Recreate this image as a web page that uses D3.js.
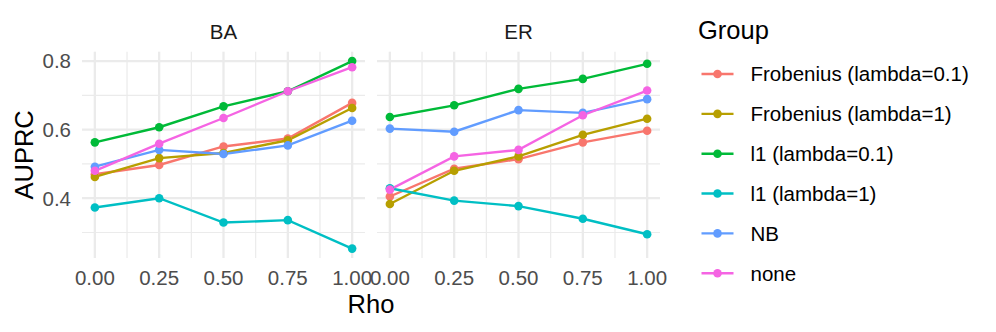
<html>
<head>
  <script src="https://d3js.org/d3.v7.min.js"></script>
  <style>
  body { margin: 0; background: #fff; }
  svg { font-family: "Liberation Sans", Arial, sans-serif; }
  </style>
</head>
<body>
  <svg width="996" height="332"></svg>

<script>
// AUPRC vs Rho, faceted by network type
var rho = [0, 0.25, 0.5, 0.75, 1];
var panels = ["BA", "ER"];
var groups = ["Frobenius (lambda=0.1)", "Frobenius (lambda=1)", "l1 (lambda=0.1)", "l1 (lambda=1)", "NB", "none"];
var colors = ["#F8766D", "#B79F00", "#00BA38", "#00BFC4", "#619CFF", "#F564E3"];

// values per group, one array per panel
var BA = [
  [0.470, 0.497, 0.551, 0.574, 0.678],
  [0.462, 0.517, 0.532, 0.569, 0.663],
  [0.563, 0.607, 0.668, 0.712, 0.800],
  [0.373, 0.400, 0.329, 0.336, 0.253],
  [0.492, 0.541, 0.529, 0.554, 0.626],
  [0.480, 0.559, 0.634, 0.712, 0.782]
];
var ER = [
  [0.405, 0.486, 0.514, 0.563, 0.597],
  [0.383, 0.480, 0.522, 0.585, 0.632],
  [0.637, 0.671, 0.719, 0.748, 0.792],
  [0.429, 0.393, 0.377, 0.340, 0.295],
  [0.603, 0.594, 0.657, 0.649, 0.689],
  [0.425, 0.522, 0.541, 0.642, 0.714]
];
var yTicks = [0.4, 0.6, 0.8];
var yMinor = [0.3, 0.5, 0.7];
var xTicks = [0, 0.25, 0.5, 0.75, 1];
var xMinor = [0.125, 0.375, 0.625, 0.875];

var svg = d3.select("svg");
var panelData = [BA, ER];
var panelLeft = [82, 377];
var panelW = 283;
var pTop = 51.7, pBottom = 258;

var all = BA.concat(ER).flat();
var ymin = d3.min(all), ymax = d3.max(all);
var pad = (ymax - ymin) * 0.05;
var y = d3.scaleLinear().domain([ymin - pad, ymax + pad]).range([pBottom, pTop]);

var small = 20.5, big = 25.5;

panels.forEach(function(name, p) {
  var x = d3.scaleLinear().domain([-0.05, 1.05]).range([panelLeft[p], panelLeft[p] + panelW]);
  var g = svg.append("g");

  // grid
  g.selectAll("line.ymin").data(yMinor).enter().append("line")
    .attr("x1", x.range()[0]).attr("x2", x.range()[1])
    .attr("y1", y).attr("y2", y)
    .attr("stroke", "#EBEBEB").attr("stroke-width", 1.2);
  g.selectAll("line.xmin").data(xMinor).enter().append("line")
    .attr("y1", pTop).attr("y2", pBottom)
    .attr("x1", x).attr("x2", x)
    .attr("stroke", "#EBEBEB").attr("stroke-width", 1.2);
  g.selectAll("line.ymaj").data(yTicks).enter().append("line")
    .attr("x1", x.range()[0]).attr("x2", x.range()[1])
    .attr("y1", y).attr("y2", y)
    .attr("stroke", "#EBEBEB").attr("stroke-width", 2.3);
  g.selectAll("line.xmaj").data(xTicks).enter().append("line")
    .attr("y1", pTop).attr("y2", pBottom)
    .attr("x1", x).attr("x2", x)
    .attr("stroke", "#EBEBEB").attr("stroke-width", 2.3);

  // strip label
  g.append("text")
    .attr("x", (x.range()[0] + x.range()[1]) / 2).attr("y", 39)
    .attr("text-anchor", "middle").attr("font-size", small).attr("fill", "#1A1A1A")
    .text(name);

  // x tick labels
  g.selectAll("text.xt").data(xTicks).enter().append("text")
    .attr("x", x).attr("y", 285)
    .attr("text-anchor", "middle").attr("font-size", small).attr("fill", "#4D4D4D")
    .text(d3.format(".2f"));

  var line = d3.line().x(function(d, i) { return x(rho[i]); }).y(function(d) { return y(d); });
  var data = panelData[p];

  // lines first, then points
  data.forEach(function(vals, k) {
    g.append("path").attr("d", line(vals))
      .attr("fill", "none").attr("stroke", colors[k]).attr("stroke-width", 2.4);
  });
  data.forEach(function(vals, k) {
    g.selectAll("circle.g" + k).data(vals).enter().append("circle")
      .attr("cx", function(d, i) { return x(rho[i]); })
      .attr("cy", y).attr("r", 4.3).attr("fill", colors[k]);
  });
});

// y tick labels
svg.selectAll("text.yt").data(yTicks).enter().append("text")
  .attr("x", 71).attr("y", function(d) { return y(d) + 7.3; })
  .attr("text-anchor", "end").attr("font-size", small).attr("fill", "#4D4D4D")
  .text(d3.format(".1f"));

// axis titles
svg.append("text")
  .attr("x", 371).attr("y", 313).attr("text-anchor", "middle")
  .attr("font-size", big).attr("fill", "#000").text("Rho");
svg.append("text")
  .attr("transform", "translate(32.5," + ((pTop + pBottom) / 2) + ") rotate(-90)")
  .attr("text-anchor", "middle").attr("font-size", big).attr("fill", "#000").text("AUPRC");

// legend
var leg = svg.append("g");
leg.append("text").attr("x", 698).attr("y", 38.5)
  .attr("font-size", big).attr("fill", "#000").text("Group");
groups.forEach(function(name, k) {
  var cy = 74 + k * 39.85;
  leg.append("line").attr("x1", 701.5).attr("x2", 733.5).attr("y1", cy).attr("y2", cy)
    .attr("stroke", colors[k]).attr("stroke-width", 2.4);
  leg.append("circle").attr("cx", 717.5).attr("cy", cy).attr("r", 4.3).attr("fill", colors[k]);
  leg.append("text").attr("x", 750.5).attr("y", cy + 7.3)
    .attr("font-size", small).attr("fill", "#000").text(name);
});
</script>
</body></html>
